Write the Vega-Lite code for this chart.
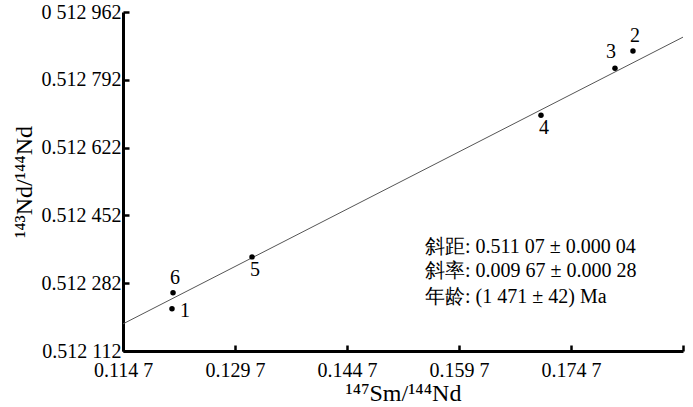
{
  "$schema": "https://vega.github.io/schema/vega-lite/v6.json",
  "width": 560,
  "height": 339,
  "autosize": "none",
  "padding": {"left": 123, "top": 12, "right": 10, "bottom": 56},
  "background": "white",
  "config": {
    "view": {"stroke": null},
    "font": "Liberation Serif",
    "axis": {
      "grid": false,
      "domainColor": "black",
      "domainWidth": 3,
      "tickColor": "black",
      "tickWidth": 2.5,
      "tickSize": -6,
      "labelFont": "Liberation Serif",
      "labelFontSize": 20,
      "labelColor": "black",
      "titleFont": "Liberation Serif",
      "titleFontSize": 24,
      "titleFontWeight": "normal",
      "titleColor": "black"
    }
  },
  "datasets": {
    "pts": [
      {"id": "1", "sm": 0.12126, "nd": 0.512218},
      {"id": "6", "sm": 0.12140, "nd": 0.512258},
      {"id": "5", "sm": 0.13198, "nd": 0.512348},
      {"id": "4", "sm": 0.17068, "nd": 0.512703},
      {"id": "3", "sm": 0.18059, "nd": 0.512821},
      {"id": "2", "sm": 0.18300, "nd": 0.512864}
    ],
    "fit": [
      {"sm": 0.1147, "nd": 0.512180},
      {"sm": 0.1897, "nd": 0.512899}
    ],
    "note": [
      {"sm": 0.15515, "nd": 0.512372, "t": "斜距: 0.511 07 ± 0.000 04"},
      {"sm": 0.15515, "nd": 0.512313, "t": "斜率: 0.009 67 ± 0.000 28"},
      {"sm": 0.15515, "nd": 0.512248, "t": "年龄: (1 471 ± 42) Ma"}
    ]
  },
  "encoding": {
    "x": {
      "field": "sm", "type": "quantitative",
      "scale": {"domain": [0.1147, 0.1897], "nice": false, "zero": false},
      "axis": {
        "values": [0.1147, 0.1297, 0.1447, 0.1597, 0.1747, 0.1897],
        "labelExpr": "datum.value > 0.189 ? '' : substring(format(datum.value, '.4f'), 0, 5) + ' ' + substring(format(datum.value, '.4f'), 5)",
        "labelPadding": 15,
        "labelFlush": false,
        "title": "¹⁴⁷Sm/¹⁴⁴Nd",
        "titlePadding": 1
      }
    },
    "y": {
      "field": "nd", "type": "quantitative",
      "scale": {"domain": [0.512112, 0.512962], "nice": false, "zero": false},
      "axis": {
        "values": [0.512112, 0.512282, 0.512452, 0.512622, 0.512792, 0.512962],
        "labelExpr": "datum.value > 0.51296 ? '0 512 962' : substring(format(datum.value, '.6f'), 0, 5) + ' ' + substring(format(datum.value, '.6f'), 5)",
        "labelPadding": 8,
        "labelFlush": false,
        "title": "¹⁴³Nd/¹⁴⁴Nd",
        "titlePadding": 5
      }
    }
  },
  "layer": [
    {
      "data": {"name": "fit"},
      "mark": {"type": "line", "color": "#555555", "strokeWidth": 1}
    },
    {
      "data": {"name": "pts"},
      "mark": {"type": "circle", "color": "black", "opacity": 1, "size": 30}
    },
    {
      "data": {"name": "pts"},
      "transform": [{"filter": "datum.id == '6' || datum.id == '2'"}],
      "mark": {"type": "text", "fontSize": 20, "color": "black", "baseline": "middle", "dx": 2, "dy": -15},
      "encoding": {"text": {"field": "id"}}
    },
    {
      "data": {"name": "pts"},
      "transform": [{"filter": "datum.id == '3'"}],
      "mark": {"type": "text", "fontSize": 20, "color": "black", "baseline": "middle", "dx": -4, "dy": -16},
      "encoding": {"text": {"field": "id"}}
    },
    {
      "data": {"name": "pts"},
      "transform": [{"filter": "datum.id == '1'"}],
      "mark": {"type": "text", "fontSize": 20, "color": "black", "baseline": "middle", "dx": 13, "dy": 2},
      "encoding": {"text": {"field": "id"}}
    },
    {
      "data": {"name": "pts"},
      "transform": [{"filter": "datum.id == '5' || datum.id == '4'"}],
      "mark": {"type": "text", "fontSize": 20, "color": "black", "baseline": "middle", "dx": 3, "dy": 13},
      "encoding": {"text": {"field": "id"}}
    },
    {
      "data": {"name": "note"},
      "mark": {"type": "text", "fontSize": 20, "color": "black", "align": "left", "baseline": "middle", "font": "Liberation Serif"},
      "encoding": {"text": {"field": "t"}}
    }
  ]
}
